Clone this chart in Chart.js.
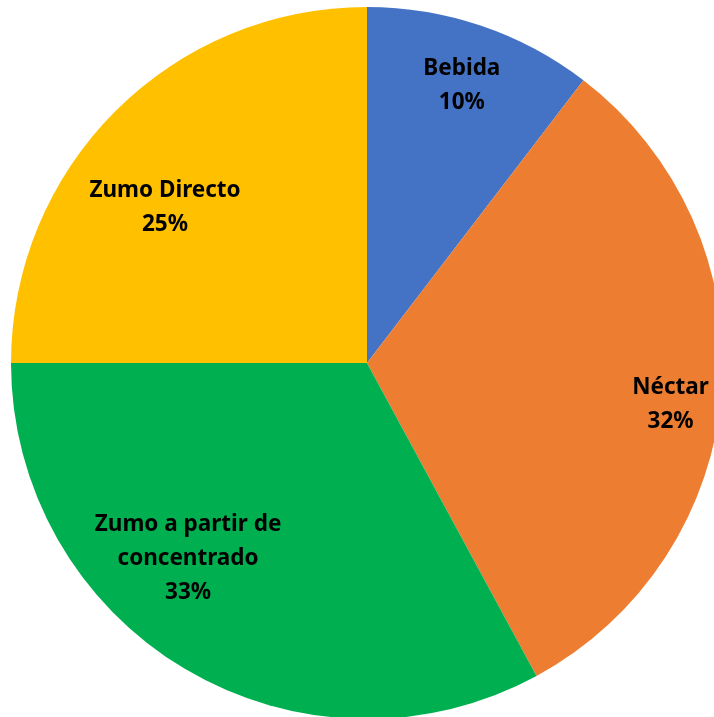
<!DOCTYPE html>
<html>
<head>
<meta charset="utf-8">
<script src="https://cdn.jsdelivr.net/npm/chart.js@4/dist/chart.umd.min.js"></script>
<style>
  html, body { margin: 0; padding: 0; background: #fff; overflow: hidden; }
  #wrap { width: 714px; height: 717px; overflow: hidden; position: relative; }
  canvas { position: absolute; left: 0; top: 0; }
</style>
</head>
<body>
<div id="wrap"><canvas id="pie" width="734" height="726"></canvas></div>
<script>
const categories = ["Bebida", "Néctar", "Zumo a partir de concentrado", "Zumo Directo"];
const shares = [10.4, 31.7, 32.9, 25.0];
const sliceColors = ["#4472C4", "#ED7D31", "#00B050", "#FFC000"];
// label text split on lines like the original
const labelLines = [["Bebida"], ["Néctar"], ["Zumo a partir de", "concentrado"], ["Zumo Directo"]];

// where each label sits: fraction of radius, and angle nudge in degrees
const labelPlace = [
  [0.83, 0],
  [0.86, 3],
  [0.74, 12],
  [0.72, -7],
];

const pieLabels = {
  id: "pieLabels",
  afterDatasetsDraw(chart) {
    const ctx = chart.ctx;
    const meta = chart.getDatasetMeta(0);
    const total = shares.reduce((a, b) => a + b, 0);
    ctx.save();
    ctx.font = "bold 22.5px 'Noto Sans'";
    ctx.fillStyle = "#000";
    ctx.textAlign = "center";
    ctx.textBaseline = "middle";
    meta.data.forEach((arc, i) => {
      const mid = (arc.startAngle + arc.endAngle) / 2 + labelPlace[i][1] * Math.PI / 180;
      const r = arc.outerRadius * labelPlace[i][0];
      const cx = arc.x + Math.cos(mid) * r;
      const cy = arc.y + Math.sin(mid) * r + 2;
      const lines = labelLines[i].concat([Math.round(shares[i] / total * 100) + "%"]);
      const lh = 34;
      const top = cy - (lines.length - 1) * lh / 2;
      lines.forEach((t, j) => ctx.fillText(t, cx, top + j * lh));
    });
    ctx.restore();
  },
};

new Chart(document.getElementById("pie").getContext("2d"), {
  type: "pie",
  data: {
    labels: categories,
    datasets: [
      {
        data: shares,
        backgroundColor: sliceColors,
        borderWidth: 0,
      },
    ],
  },
  options: {
    responsive: false,
    animation: false,
    layout: { padding: 7 },
    plugins: {
      legend: { display: false },
      tooltip: { enabled: false },
    },
  },
  plugins: [pieLabels],
});
</script>
</body>
</html>
